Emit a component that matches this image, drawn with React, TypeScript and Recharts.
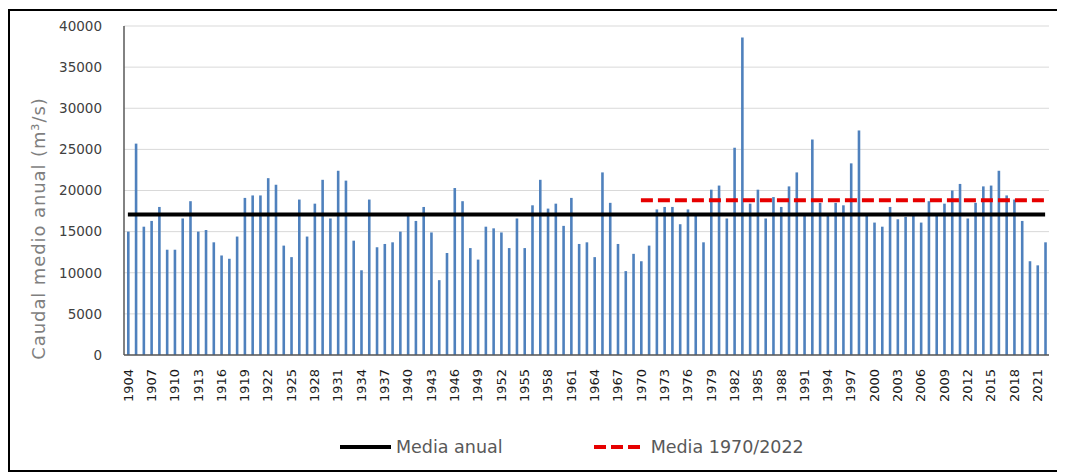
import { Bar, CartesianGrid, ComposedChart, Line, XAxis, YAxis } from 'recharts'

// años 1904..2022
const FIRST_YEAR = 1904
const LAST_YEAR = 2022
const years = Array.from({ length: LAST_YEAR - FIRST_YEAR + 1 }, (_, i) => String(FIRST_YEAR + i))

// caudal medio anual (m3/s)
const caudal = [
  15000, 25700, 15600, 16300, 18000, 12800, 12800, 16600, 18700, 15000,
  15200, 13700, 12100, 11700, 14400, 19100, 19400, 19400, 21500, 20700,
  13300, 11900, 18900, 14400, 18400, 21300, 16600, 22400, 21200, 13900,
  10300, 18900, 13100, 13500, 13700, 15000, 17000, 16300, 18000, 14900,
  9100, 12400, 20300, 18700, 13000, 11600, 15600, 15400, 14900, 13000,
  16600, 13000, 18200, 21300, 17800, 18400, 15700, 19100, 13500, 13700,
  11900, 22200, 18500, 13500, 10200, 12300, 11400, 13300, 17700, 18000,
  18000, 15900, 17700, 17000, 13700, 20100, 20600, 16600, 25200, 38600,
  18400, 20100, 16600, 19200, 18000, 20500, 22200, 17000, 26200, 18500,
  17000, 18500, 18200, 23300, 27300, 17000, 16100, 15600, 18000, 16500,
  16800, 17000, 16100, 18700, 17000, 18400, 20000, 20800, 16600, 18500,
  20500, 20600, 22400, 19400, 18900, 16300, 11400, 10900, 13700,
]

const MEDIA_ANUAL = 17070
const MEDIA_RECIENTE = 18820
const MEDIA_RECIENTE_DESDE = 1970

const yTicks = [0, 5000, 10000, 15000, 20000, 25000, 30000, 35000, 40000]

const data = years.map((year, i) => ({
  year,
  caudal: caudal[i],
  mediaAnual: MEDIA_ANUAL,
  mediaReciente: Number(year) >= MEDIA_RECIENTE_DESDE ? MEDIA_RECIENTE : null,
}))

const FONT = '"DejaVu Sans", sans-serif'
const frame = { stroke: '#595959', strokeWidth: 1.5 }

function YearTick({ x, y, payload }: any) {
  return (
    <text
      transform={`translate(${x},${y}) rotate(-90)`}
      textAnchor="end"
      dy="0.36em"
      fontSize={13}
      fontFamily={FONT}
      fill="#1a1a1a"
    >
      {payload.value}
    </text>
  )
}

function YAxisTitle({ viewBox }: any) {
  const cx = viewBox.x + 30
  const cy = viewBox.y + viewBox.height / 2 + 38
  return (
    <text
      x={cx}
      y={cy}
      transform={`rotate(-90, ${cx}, ${cy})`}
      textAnchor="middle"
      dominantBaseline="central"
      fontSize={18}
      letterSpacing={0.9}
      fontFamily={FONT}
      fill="#7f7f7f"
    >
      Caudal medio anual (m³/s)
    </text>
  )
}

function LegendRow() {
  const text = { fontFamily: FONT, fontSize: 17.5, color: '#595959', lineHeight: '20px' }
  return (
    <div style={{ position: 'absolute', left: 332, top: 429, display: 'flex', alignItems: 'center' }}>
      <svg width={52} height={20}>
        <line x1={0} y1={10} x2={51} y2={10} stroke="#000" strokeWidth={4} />
      </svg>
      <span style={{ ...text, marginLeft: 4 }}>Media anual</span>
      <svg width={48} height={20} style={{ marginLeft: 91 }}>
        <line x1={0} y1={10} x2={46} y2={10} stroke="#e60000" strokeWidth={4} strokeDasharray="12 5" />
      </svg>
      <span style={{ ...text, marginLeft: 9 }}>Media 1970/2022</span>
    </div>
  )
}

export default function App() {
  return (
    <div style={{ position: 'relative', width: 1057, height: 467 }}>
      <div
        style={{
          position: 'absolute',
          left: 0,
          top: 1,
          width: 1057,
          height: 463,
          boxSizing: 'border-box',
          borderLeft: '2px solid #000',
          borderTop: '2px solid #000',
          borderBottom: '2px solid #000',
        }}
      />
      <ComposedChart
        width={1057}
        height={467}
        data={data}
        margin={{ top: 18, right: 16, bottom: 60, left: 0 }}
        style={{ position: 'absolute', left: 0, top: 0 }}
      >
        <CartesianGrid vertical={false} stroke="#d9d9d9" />
        <XAxis
          dataKey="year"
          height={60}
          interval={2}
          tickSize={0}
          tickMargin={14}
          tickLine={false}
          axisLine={frame}
          tick={<YearTick />}
        />
        <XAxis xAxisId="top" dataKey="year" orientation="top" height={0} tick={false} tickLine={false} axisLine={frame} />
        <YAxis
          width={116}
          domain={[0, 40000]}
          ticks={yTicks}
          tickSize={0}
          tickMargin={22}
          tickLine={false}
          axisLine={frame}
          tick={{ fontSize: 13.5, fill: '#404040', fontFamily: FONT }}
          label={<YAxisTitle />}
        />
        <YAxis yAxisId="right" orientation="right" width={0} tick={false} tickLine={false} axisLine={frame} />
        <Bar dataKey="caudal" fill="#4f81bd" barSize={2.6} isAnimationActive={false} />
        <Line
          dataKey="mediaAnual"
          stroke="#000"
          strokeWidth={4}
          dot={false}
          activeDot={false}
          isAnimationActive={false}
        />
        <Line
          dataKey="mediaReciente"
          stroke="#e60000"
          strokeWidth={4}
          strokeDasharray="12 5"
          dot={false}
          activeDot={false}
          isAnimationActive={false}
        />
      </ComposedChart>
      <LegendRow />
    </div>
  )
}
